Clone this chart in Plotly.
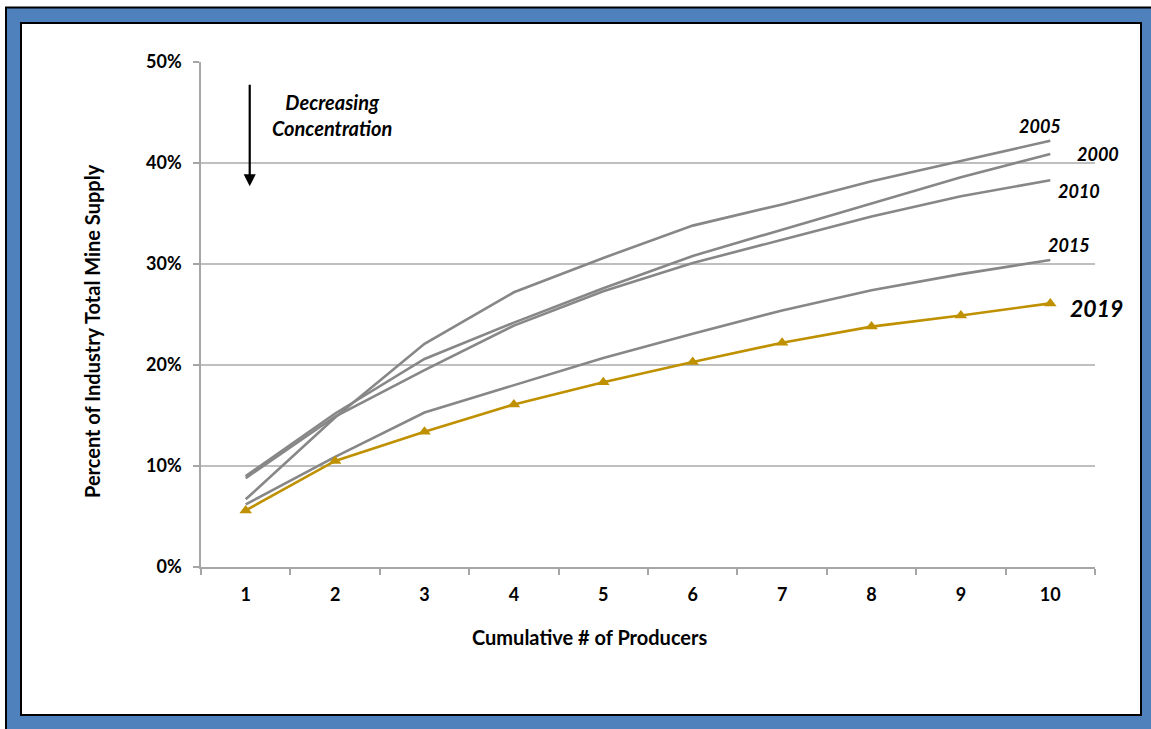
import plotly.graph_objects as go

# Cumulative share of total mine supply held by the top N producers
producers = ["1", "2", "3", "4", "5", "6", "7", "8", "9", "10"]
share_2000 = [9.0, 15.2, 20.6, 24.2, 27.6, 30.8, 33.4, 36.0, 38.6, 40.9]
share_2005 = [6.7, 14.8, 22.1, 27.2, 30.6, 33.8, 35.9, 38.2, 40.2, 42.2]
share_2010 = [8.8, 14.9, 19.5, 23.9, 27.3, 30.1, 32.4, 34.7, 36.7, 38.3]
share_2015 = [6.2, 10.9, 15.3, 18.0, 20.7, 23.1, 25.4, 27.4, 29.0, 30.4]
share_2019 = [5.6, 10.5, 13.4, 16.1, 18.3, 20.3, 22.2, 23.8, 24.9, 26.1]

W, H = 1151, 729
ML, MR, MT, MB = 201, 56, 62, 162
PW, PH = W - ML - MR, H - MT - MB

FONT = "Lato"
GREY = "#878787"
GOLD = "#BF9000"
BLUE = "#4F81BD"


def px(x):
    return (x - ML) / PW


def py(y):
    return (H - MB - y) / PH


fig = go.Figure()

for vals in [share_2000, share_2005, share_2010, share_2015]:
    fig.add_trace(go.Scatter(
        x=producers, y=vals, mode="lines",
        line=dict(color=GREY, width=2.6), showlegend=False,
    ))

fig.add_trace(go.Scatter(
    x=producers, y=share_2019, mode="lines+markers",
    line=dict(color=GOLD, width=2.6),
    marker=dict(symbol="triangle-up", size=11, color=GOLD),
    showlegend=False,
))

# Series labels at the right end of each line (pixel centres)
labels = [
    ("2005", 1040, 126, 18),
    ("2000", 1098, 154, 18),
    ("2010", 1079, 191, 18),
    ("2015", 1069, 245, 18),
    ("2019", 1096, 308, 23),
]
annotations = []
for text, lx, ly, size in labels:
    annotations.append(dict(
        x=px(lx), y=py(ly), xref="paper", yref="paper", text=text, showarrow=False,
        font=dict(family=FONT, size=size, color="#000000", weight="bold", style="italic"),
        xanchor="center", yanchor="middle",
    ))

annotations.append(dict(
    x=px(332), y=py(115), xref="paper", yref="paper",
    text="Decreasing<br>Concentration", showarrow=False,
    font=dict(family=FONT, size=20, color="#000000", weight="bold", style="italic"),
    xanchor="center", yanchor="middle",
))

# Downward arrow beside the note
annotations.append(dict(
    x=0.045, y=37.7, ax=0.045, ay=47.9, xref="x", yref="y",
    axref="x", ayref="y", text="", showarrow=True,
    arrowhead=2, arrowsize=1.1, arrowwidth=2.2, arrowcolor="#000000",
))

title_font = dict(family=FONT, size=20, color="#000000", weight="bold")

# Axis titles
annotations.append(dict(
    x=px(589), y=py(637), xref="paper", yref="paper",
    text="Cumulative # of Producers", showarrow=False, font=title_font,
    xanchor="center", yanchor="middle",
))
annotations.append(dict(
    x=px(92), y=py(331), xref="paper", yref="paper",
    text="Percent of Industry Total Mine Supply", showarrow=False, font=title_font,
    textangle=-90, xanchor="center", yanchor="middle",
))

shapes = [
    dict(type="rect", xref="paper", yref="paper",
         x0=px(6), y0=py(7.5), x1=px(W + 10), y1=py(H + 10),
         fillcolor=BLUE, line=dict(color="#000000", width=2), layer="below"),
    dict(type="rect", xref="paper", yref="paper",
         x0=px(21), y0=py(23), x1=px(1141), y1=py(715),
         fillcolor="#FFFFFF", line=dict(color="#000000", width=2), layer="below"),
]

tick_font = dict(family=FONT, size=18, color="#000000", weight="bold")

fig.update_layout(
    width=W, height=H,
    margin=dict(l=ML, r=MR, t=MT, b=MB),
    paper_bgcolor="#FFFFFF",
    plot_bgcolor="rgba(0,0,0,0)",
    showlegend=False,
    annotations=annotations,
    shapes=shapes,
    xaxis=dict(
        type="category", range=[-0.5, 9.5],
        showline=True, linecolor="#A6A6A6", linewidth=1.5,
        showgrid=False, ticks="outside", tickson="boundaries",
        ticklen=6, tickcolor="#A6A6A6", tickwidth=1.5,
        ticklabelstandoff=11,
        tickfont=tick_font,
        automargin=False, fixedrange=True,
    ),
    yaxis=dict(
        range=[0, 50], dtick=10, ticksuffix="%",
        showline=True, linecolor="#A6A6A6", linewidth=1.5,
        showgrid=True, gridcolor="#BFBFBF", gridwidth=1.5,
        ticks="outside", ticklen=6, tickcolor="#A6A6A6", tickwidth=1.5,
        ticklabelstandoff=8,
        tickfont=tick_font,
        zeroline=False, automargin=False, fixedrange=True,
    ),
)

fig.write_html("out.html")
